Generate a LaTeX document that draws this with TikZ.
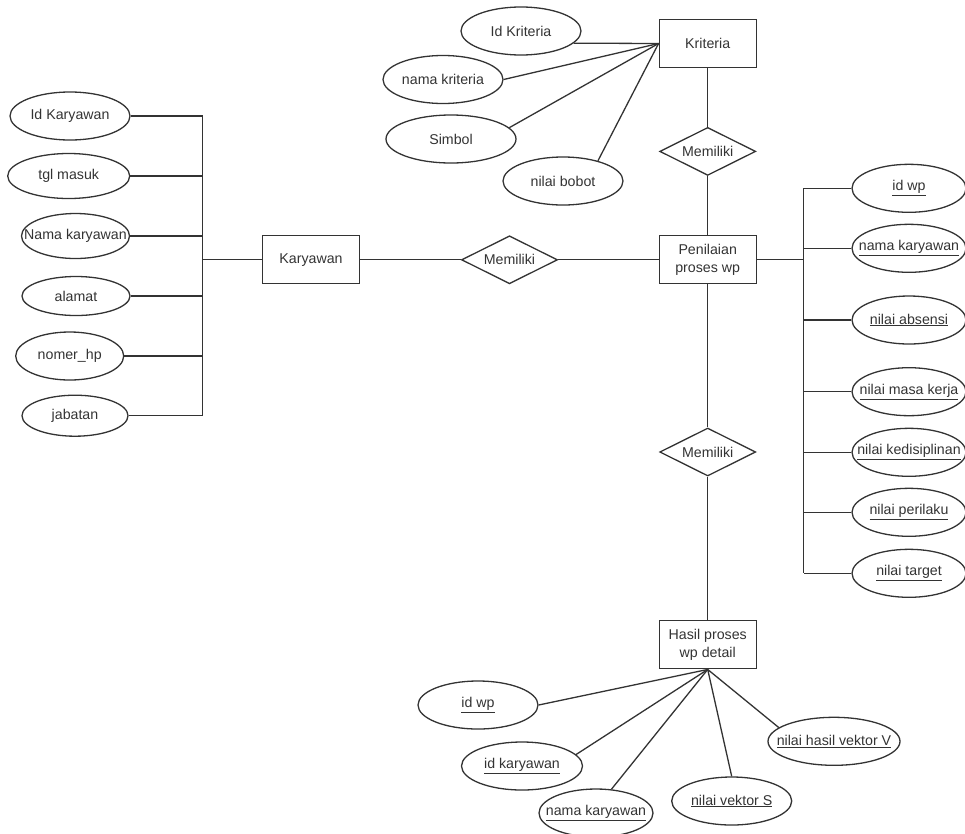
\documentclass[tikz,border=0pt]{standalone}
\usepackage{fontspec}
\setmainfont{Liberation Sans}
\usetikzlibrary{shapes}
\usetikzlibrary{positioning}
\usetikzlibrary{calc}

\begin{document}
\begin{tikzpicture}[x=1pt, y=-1pt, line width=1.3pt, color=black!80,
		every node/.style={font=\fontsize{14.2}{18.5}\selectfont},
		entitas/.style={draw, rectangle, minimum width=97pt, minimum height=48pt, inner sep=0pt, align=center},
		relasi/.style={draw, diamond, aspect=2, minimum width=96pt, minimum height=48pt, inner sep=0pt},
		atribut/.style={draw, ellipse, minimum width=120pt, minimum height=48pt, inner sep=0pt}]
				\useasboundingbox (0,0) rectangle (965,833);

				% entitas dan relasi
				\node[entitas] (kriteria) at (707.7,43.5) {Kriteria};
				\node[relasi] (memiliki1) at (707.7,151.4) {Memiliki};
				\node[entitas] (karyawan) at (311,259.8) {Karyawan};
				\node[relasi] (memiliki2) at (509.5,259.8) {Memiliki};
				\node[entitas] (penilaian) at (707.7,259.8) {Penilaian\\proses wp};
				\node[relasi] (memiliki3) at (707.7,452) {Memiliki};
				\node[entitas] (hasil) at (707.7,644.8) {Hasil proses\\wp detail};

				% atribut kriteria
				\node[atribut] (idkrit) at (521,31) {\makebox[0pt]{Id Kriteria}};
				\node[atribut] (namakrit) at (443,79.5) {\makebox[0pt]{nama kriteria}};
				\node[atribut, minimum width=130pt] (simbol) at (451,139) {\makebox[0pt]{Simbol}};
				\node[atribut] (bobot) at (563,181) {\makebox[0pt]{nilai bobot}};

				% atribut karyawan
				\node[atribut] (ka1) at (70,116) {\makebox[0pt]{Id Karyawan}};
				\node[atribut, minimum width=122pt, minimum height=45pt] (ka2) at (68.7,176) {\makebox[0pt]{tgl masuk}};
				\node[atribut, minimum width=108pt, minimum height=45pt] (ka3) at (75.5,236) {\makebox[0pt]{Nama karyawan}};
				\node[atribut, minimum width=108pt, minimum height=39pt] (ka4) at (76,296) {\makebox[0pt]{alamat}};
				\node[atribut, minimum width=108pt] (ka5) at (69.7,356) {\makebox[0pt]{nomer\_hp}};
				\node[atribut, minimum width=106pt, minimum height=41pt] (ka6) at (75,415.7) {\makebox[0pt]{jabatan}};

				% atribut penilaian
				\foreach \nama/\y/\teks in {pw1/188.3/id wp, pw2/248.3/nama karyawan, pw3/320/nilai absensi,
						pw4/391.7/nilai masa kerja, pw5/452.3/nilai kedisiplinan, pw6/512.3/nilai perilaku, pw7/573.3/nilai target}
					\node[atribut, minimum width=114pt] (\nama) at (909,\y) {\makebox[0pt]{\underline{\teks}}};

				% atribut hasil
				\node[atribut] (hd1) at (478,705) {\makebox[0pt]{\underline{id wp}}};
				\node[atribut, minimum width=121pt] (hd2) at (522,766) {\makebox[0pt]{\underline{id karyawan}}};
				\node[atribut, minimum width=114pt] (hd3) at (596,813) {\makebox[0pt]{\underline{nama karyawan}}};
				\node[atribut] (hd4) at (731.7,801) {\makebox[0pt]{\underline{nilai vektor S}}};
				\node[atribut, minimum width=132pt] (hd5) at (834,741.3) {\makebox[0pt]{\underline{nilai hasil vektor V}}};

				% garis
				\coordinate (busL) at (202.7,259.8);
				\coordinate (busR) at (803.7,259.8);
				\draw (kriteria) -- (memiliki1) -- (penilaian) -- (memiliki3) -- (hasil);
				\draw (busL) -- (karyawan) -- (memiliki2) -- (penilaian) -- (busR);
				\draw (kriteria.west) -- (idkrit.-13);
				\draw (kriteria.west) -- (namakrit.east);
				\draw (kriteria.west) -- (simbol.11);
				\draw (kriteria.west) -- (bobot.30);
				\draw (ka1.east -| busL) -- (ka6.east -| busL);
				\foreach \n in {ka1,ka2,ka3,ka4,ka5,ka6}
					\draw (\n.east) -- (\n.east -| busL);
				\draw (pw1.west -| busR) -- (pw7.west -| busR);
				\foreach \n in {pw1,pw2,pw3,pw4,pw5,pw6,pw7}
					\draw (\n.west) -- (\n.west -| busR);
				\draw (hasil.south) -- (hd1.east);
				\draw (hasil.south) -- (hd2.12);
				\draw (hasil.south) -- (hd3.57);
				\draw (hasil.south) -- (hd4.north);
				\draw (hasil.south) -- (hd5.166);
			\end{tikzpicture}
\end{document}
